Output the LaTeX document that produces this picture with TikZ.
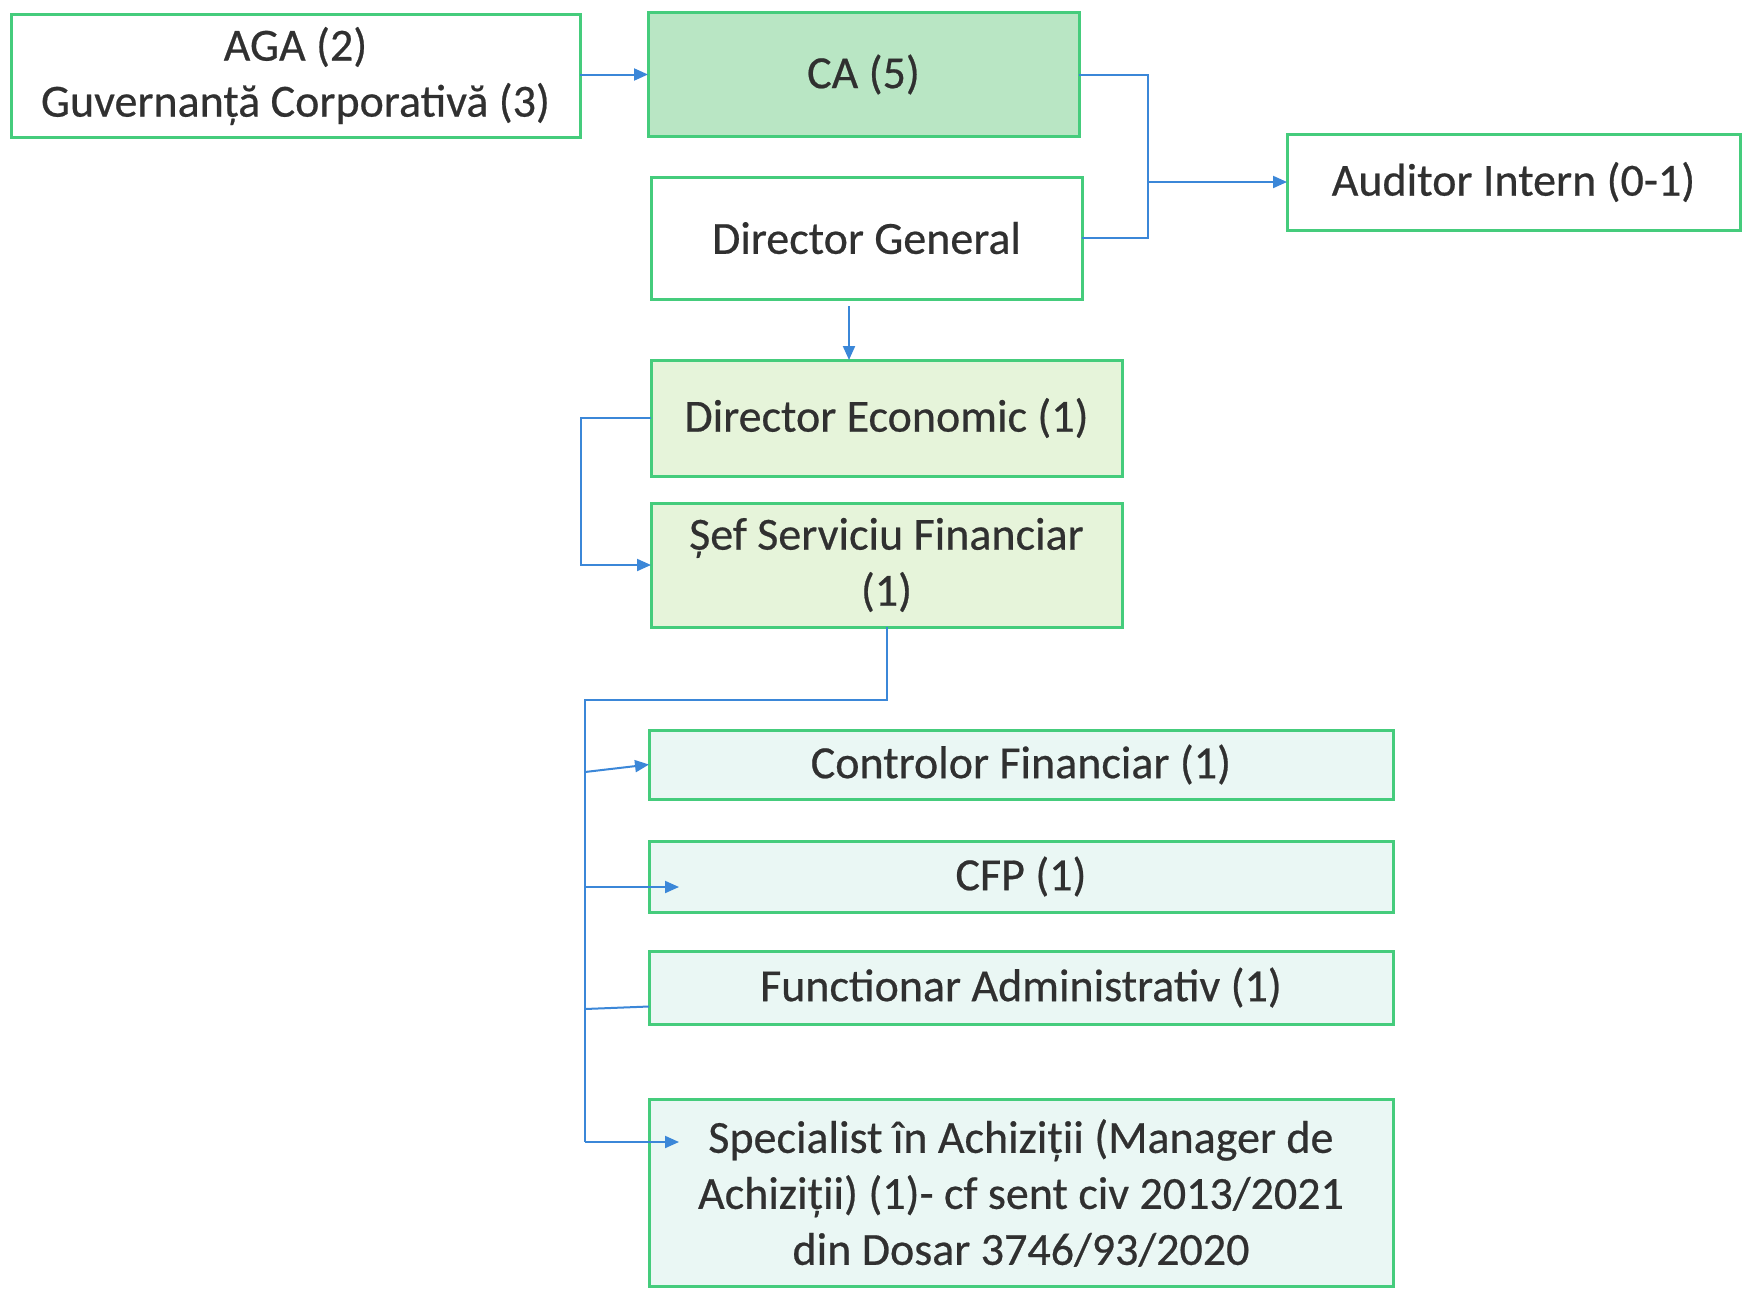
\documentclass[tikz,border=0pt]{standalone}
\usepackage{fontspec}
\setmainfont{Carlito}
\newfontfamily\boxfont{Carlito}[FakeBold=0.5]
\usetikzlibrary{arrows.meta,calc}
\definecolor{bordergreen}{HTML}{45CC7C}
\definecolor{cafill}{HTML}{B9E6C4}
\definecolor{defill}{HTML}{E6F4DA}
\definecolor{cyanfill}{HTML}{EAF7F4}
\definecolor{linkblue}{HTML}{3B87D8}
\definecolor{txt}{HTML}{303030}
\begin{document}
\begin{tikzpicture}[x=1pt,y=-1pt,
  orgbox/.style={draw=bordergreen, line width=3pt, rectangle, inner sep=0pt, outer sep=0pt,
    text=txt, align=center, font=\boxfont\fontsize{46}{56}\selectfont},
  conn/.style={draw=linkblue, line width=2pt},
  arr/.style={conn, -{Triangle[length=14pt,width=12pt]}}]
\useasboundingbox[fill=white] (0,0) rectangle (1742,1290);

\node[orgbox, fill=white, minimum width=569pt, minimum height=123pt] (aga) at (295.5,76) {AGA (2)\\Guvernanță Corporativă (3)};
\node[orgbox, fill=cafill, minimum width=431pt, minimum height=123pt] (ca) at (863.5,74.5) {CA (5)};
\node[orgbox, fill=white, minimum width=431pt, minimum height=122pt] (dg) at (866.5,238) {Director General};
\node[orgbox, fill=white, minimum width=453pt, minimum height=96pt] (aud) at (1513.5,182) {Auditor Intern (0-1)};
\node[orgbox, fill=defill, minimum width=471pt, minimum height=116pt] (de) at (886.5,418) {Director Economic (1)};
\node[orgbox, fill=defill, minimum width=471pt, minimum height=124pt] (sef) at (886.5,565) {Șef Serviciu Financiar\\(1)};
\node[orgbox, fill=cyanfill, minimum width=744pt, minimum height=69pt] (ctrl) at (1021,764.5) {Controlor Financiar (1)};
\node[orgbox, fill=cyanfill, minimum width=744pt, minimum height=71pt] (cfp) at (1021,876.5) {CFP (1)};
\node[orgbox, fill=cyanfill, minimum width=744pt, minimum height=73pt] (func) at (1021,987.5) {Functionar Administrativ (1)};
\node[orgbox, fill=cyanfill, minimum width=744pt, minimum height=187pt] (spec) at (1021,1193) {Specialist în Achiziții (Manager de\\Achiziții) (1)- cf sent civ 2013/2021\\din Dosar 3746/93/2020};

% AGA -> CA
\draw[arr] (aga.east |- ca.west) -- (ca.west);

% CA, DG -> Auditor
\coordinate (jx) at (1148,0);
\draw[conn] (ca.east) -- (ca.east -| jx) -- (dg.east -| jx) -- (dg.east);
\draw[arr] (aud.west -| jx) -- (aud.west);

% DG -> DE
\coordinate (dgx) at (849,0);
\draw[arr] ($(dg.south -| dgx)+(0,7)$) -- (de.north -| dgx);

% DE -> Sef
\coordinate (dex) at (581,0);
\draw[arr] (de.west) -- (de.west -| dex) |- (sef.west);

% Sef -> bus
\coordinate (bus) at (585,700);
\coordinate (c1) at (585,772);
\coordinate (c2) at (585,887);
\coordinate (c3) at (585,1009);
\coordinate (c4) at (585,1142);
\coordinate (t2) at (679,887);
\coordinate (t4) at (679,1142);
\draw[conn] (sef.south) |- (bus) -- (c4);
\draw[arr] (c1) -- (ctrl.west);
\draw[arr] (c2) -- (t2);
\draw[conn] (c3) -- ($(func.west)+(0,19)$);
\draw[arr] (c4) -- (t4);
\end{tikzpicture}
\end{document}
